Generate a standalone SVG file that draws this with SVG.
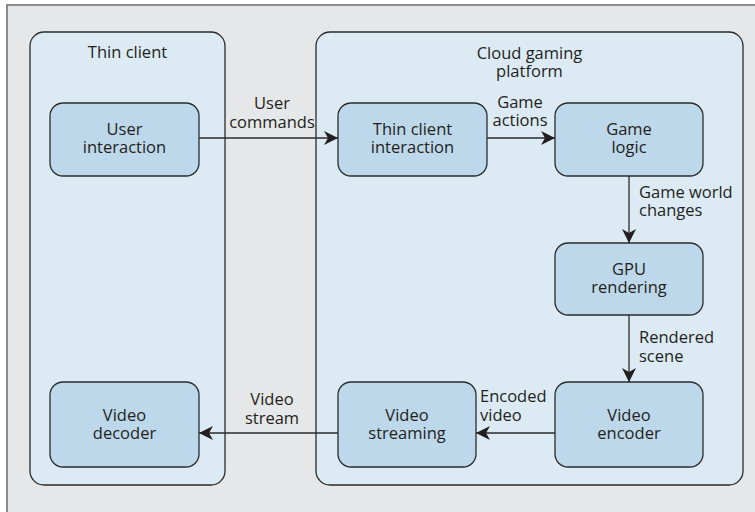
<svg xmlns="http://www.w3.org/2000/svg" width="755" height="512" viewBox="0 0 755 512">
<defs>
<style>
.panel{fill:#dceaf3;stroke:#2b2b2b;stroke-width:1.3}
.box{fill:#bdd8ea;stroke:#2b2b2b;stroke-width:1.3}
.conn{stroke:#2b2b2b;stroke-width:1.3;fill:none}
text{font-family:"Open Sans","Noto Sans",sans-serif;font-size:16.5px;fill:#231f20}
.c{text-anchor:middle}
</style>
<marker id="ah" viewBox="0 0 14 14" refX="14" refY="7" markerWidth="14" markerHeight="14" markerUnits="userSpaceOnUse" orient="auto">
<path d="M0,0 L14,7 L0,14 L4,7 Z" fill="#231f20"/>
</marker>
</defs>
<rect x="0" y="0" width="755" height="512" fill="#ffffff"/>
<rect x="7" y="5" width="760" height="520" fill="#e6e7e8" stroke="#8a8a8a" stroke-width="2"/>
<g id="thin-client">
<rect class="panel" x="30" y="32" width="195" height="453" rx="14"/>
<text class="c" x="127.5" y="58">Thin client</text>
</g>
<g id="cloud-platform">
<rect class="panel" x="316" y="32" width="427" height="453" rx="14"/>
<text class="c" x="529.5" y="59">Cloud gaming</text>
<text class="c" x="529.5" y="77">platform</text>
</g>
<g id="user-interaction">
<rect class="box" x="50" y="103" width="149" height="73" rx="13"/>
<text class="c" x="124.5" y="135">User</text>
<text class="c" x="124.5" y="153">interaction</text>
</g>
<g id="thin-client-interaction">
<rect class="box" x="338" y="103" width="149" height="73" rx="13"/>
<text class="c" x="412.5" y="135">Thin client</text>
<text class="c" x="412.5" y="153">interaction</text>
</g>
<g id="game-logic">
<rect class="box" x="555" y="103" width="148" height="73" rx="13"/>
<text class="c" x="629" y="135">Game</text>
<text class="c" x="629" y="153">logic</text>
</g>
<g id="gpu-rendering">
<rect class="box" x="555" y="243" width="148" height="72" rx="13"/>
<text class="c" x="629" y="274.5">GPU</text>
<text class="c" x="629" y="292.5">rendering</text>
</g>
<g id="video-encoder">
<rect class="box" x="555" y="382" width="148" height="85" rx="13"/>
<text class="c" x="629" y="421">Video</text>
<text class="c" x="629" y="439">encoder</text>
</g>
<g id="video-streaming">
<rect class="box" x="338" y="382" width="138" height="85" rx="13"/>
<text class="c" x="407" y="421">Video</text>
<text class="c" x="407" y="439">streaming</text>
</g>
<g id="video-decoder">
<rect class="box" x="50" y="382" width="149" height="85" rx="13"/>
<text class="c" x="124.5" y="421">Video</text>
<text class="c" x="124.5" y="439">decoder</text>
</g>
<g id="connectors">
<line class="conn" x1="199" y1="138" x2="338" y2="138" marker-end="url(#ah)"/>
<line class="conn" x1="487" y1="138" x2="555" y2="138" marker-end="url(#ah)"/>
<line class="conn" x1="629" y1="176" x2="629" y2="243" marker-end="url(#ah)"/>
<line class="conn" x1="629" y1="315" x2="629" y2="382" marker-end="url(#ah)"/>
<line class="conn" x1="555" y1="433" x2="476" y2="433" marker-end="url(#ah)"/>
<line class="conn" x1="338" y1="433" x2="199" y2="433" marker-end="url(#ah)"/>
<text class="c" x="272" y="109">User</text>
<text class="c" x="272" y="128">commands</text>
<text class="c" x="520" y="108">Game</text>
<text class="c" x="520" y="126">actions</text>
<text x="639" y="198">Game world</text>
<text x="639" y="216">changes</text>
<text x="639" y="343">Rendered</text>
<text x="639" y="362">scene</text>
<text x="480" y="402">Encoded</text>
<text x="480" y="421">video</text>
<text class="c" x="272" y="405">Video</text>
<text class="c" x="272" y="424">stream</text>
</g>
</svg>
